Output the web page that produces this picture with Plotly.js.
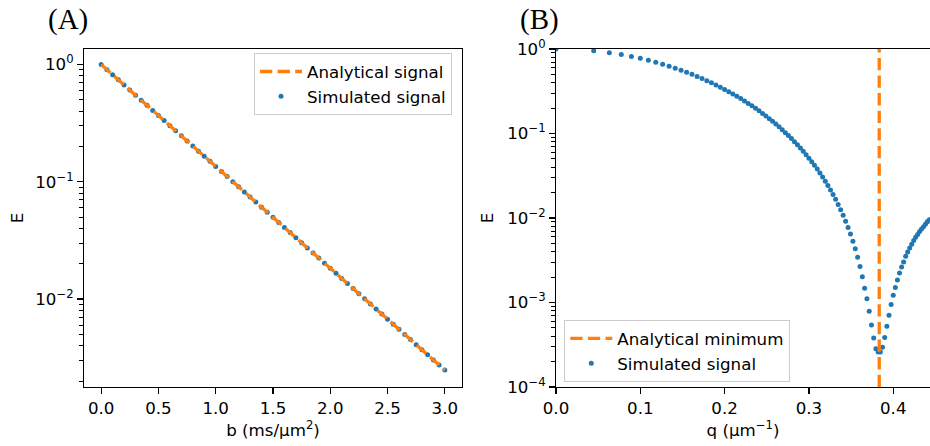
<!DOCTYPE html>
<html>
<head>
<meta charset="utf-8">
<script src="https://cdn.plot.ly/plotly-3.0.1.min.js"></script>
<style>html,body{margin:0;padding:0;background:#fff;}#chart{width:930px;height:446px;}</style>
</head>
<body>
<div id="chart"></div>
<script>
// ---- Panel A data: signal vs b ----
var bLine = [0, 3.0];
var eLine = [1, 0.002479];
var bSim = [0,0.05,0.1,0.15,0.2,0.25,0.3,0.35,0.4,0.45,0.5,0.55,0.6,0.65,0.7,0.75,0.8,0.85,0.9,0.95,1.0,1.05,1.1,1.15,1.2,1.25,1.3,1.35,1.4,1.45,1.5,1.55,1.6,1.65,1.7,1.75,1.8,1.85,1.9,1.95,2.0,2.05,2.1,2.15,2.2,2.25,2.3,2.35,2.4,2.45,2.5,2.55,2.6,2.65,2.7,2.75,2.8,2.85,2.9,2.95,3.0];
var eSim = [1,0.9048,0.8187,0.7408,0.6703,0.6065,0.5488,0.4966,0.4493,0.4066,0.3679,0.3329,0.3012,0.2725,0.2466,0.2231,0.2019,0.1827,0.1653,0.1496,0.1353,0.1225,0.1108,0.1003,0.09072,0.08208,0.07427,0.06721,0.06081,0.05502,0.04979,0.04505,0.04076,0.03688,0.03337,0.0302,0.02732,0.02472,0.02237,0.02024,0.01832,0.01657,0.015,0.01357,0.01228,0.01111,0.01005,0.009095,0.00823,0.007447,0.006738,0.006097,0.005517,0.004992,0.004517,0.004087,0.003698,0.003346,0.003028,0.002739,0.002479];

// ---- Panel B data: signal vs q ----
var qMin = 0.3834;
var qSim = [0,0.04472,0.06325,0.07746,0.08944,0.1,0.10954,0.11832,0.12649,0.13416,0.14142,0.14832,0.15492,0.16125,0.16733,0.17321,0.17889,0.18439,0.18974,0.19494,0.2,0.20494,0.20976,0.21448,0.21909,0.22361,0.22804,0.23238,0.23664,0.24083,0.24495,0.249,0.25298,0.2569,0.26077,0.26458,0.26833,0.27203,0.27568,0.27928,0.28284,0.28636,0.28983,0.29326,0.29665,0.3,0.30332,0.30659,0.30984,0.31305,0.31623,0.31937,0.32249,0.32558,0.32863,0.33166,0.33466,0.33764,0.34059,0.34351,0.34641,0.34928,0.35214,0.35496,0.35777,0.36056,0.36332,0.36606,0.36878,0.37148,0.37417,0.37683,0.37947,0.3821,0.38471,0.3873,0.38987,0.39243,0.39497,0.39749,0.4,0.40249,0.40497,0.40743,0.40988,0.41231,0.41473,0.41713,0.41952,0.4219,0.42426,0.42661,0.42895,0.43128,0.43359,0.43589,0.43818,0.44045,0.44272];
var eSimB = [1,0.951,0.9041,0.8591,0.8159,0.7746,0.735,0.6971,0.6608,0.6261,0.5929,0.5611,0.5308,0.5018,0.4741,0.4476,0.4224,0.3983,0.3754,0.3535,0.3326,0.3128,0.2939,0.2759,0.2588,0.2425,0.2271,0.2124,0.1985,0.1853,0.1728,0.161,0.1498,0.1392,0.1292,0.1198,0.1109,0.1024,0.09453,0.08708,0.08008,0.0735,0.06734,0.06156,0.05615,0.05109,0.04638,0.04198,0.03789,0.03409,0.03056,0.0273,0.02429,0.02151,0.01896,0.01663,0.01449,0.01254,0.01078,0.00918,0.007745,0.00646,0.00532,0.004313,0.003432,0.00267,0.002018,0.00147,0.00111,0.00079,0.000542,0.00038,0.000284,0.00026,0.00026,0.000295,0.000385,0.000523,0.000706,0.000945,0.00122,0.00151,0.00185,0.00223,0.00263,0.00301,0.00352,0.00396,0.00442,0.0049,0.0054,0.0059,0.0064,0.0069,0.0074,0.0079,0.00845,0.009,0.00955];

// ---- tick labels ----
var yTickValsA = [1, 0.1, 0.01];
var yTickTextA = ['10<sup>0</sup>', '10<sup>\u22121</sup>', '10<sup>\u22122</sup>'];
var yTickValsB = [1, 0.1, 0.01, 0.001, 0.0001];
var yTickTextB = ['10<sup>0</sup>', '10<sup>\u22121</sup>', '10<sup>\u22122</sup>', '10<sup>\u22123</sup>', '10<sup>\u22124</sup>'];

function minorLog(lo, hi) {
  var out = [];
  for (var d = lo; d < hi; d++) {
    for (var k = 2; k <= 9; k++) out.push(k * Math.pow(10, d));
  }
  return out;
}

var BLUE = '#1f77b4', ORANGE = '#ff7f0e';
var FONT = 'DejaVu Sans, sans-serif';
var FS = 16.67;

var traces = [
  {x: bSim, y: eSim, mode: 'markers', name: 'Simulated signal', xaxis: 'x', yaxis: 'y',
   marker: {color: BLUE, size: 5}, legend: 'legend', legendrank: 2},
  {x: bLine, y: eLine, mode: 'lines', name: 'Analytical signal', xaxis: 'x', yaxis: 'y',
   line: {color: ORANGE, width: 3.3, dash: '12.3px,5.3px'}, legend: 'legend', legendrank: 1},
  {x: qSim, y: eSimB, mode: 'markers', name: 'Simulated signal', xaxis: 'x2', yaxis: 'y2',
   marker: {color: BLUE, size: 5}, legend: 'legend2', legendrank: 2},
  {x: [qMin, qMin], y: [0.0001, 1], mode: 'lines', name: 'Analytical minimum', xaxis: 'x2', yaxis: 'y2',
   line: {color: ORANGE, width: 3.3, dash: '12.3px,5.3px'}, legend: 'legend2', legendrank: 1}
];

var axisCommon = {
  showgrid: false, zeroline: false, showline: true, linecolor: '#000', linewidth: 1.3,
  ticks: 'outside', ticklen: 5.8, tickwidth: 1.3, tickcolor: '#000',
  tickfont: {family: FONT, size: FS, color: '#000'}
};
function ax(extra) { return Object.assign({}, axisCommon, extra); }

var legendCommon = {
  font: {family: FONT, size: FS, color: '#000'},
  bgcolor: 'rgba(255,255,255,0.8)', bordercolor: '#cccccc', borderwidth: 1,
  xanchor: 'left', yanchor: 'middle', itemwidth: 42, tracegroupgap: 0
};

var layout = {
  width: 930, height: 446,
  margin: {l: 84, r: 0, t: 49, b: 59, pad: 0},
  paper_bgcolor: '#fff', plot_bgcolor: '#fff',
  showlegend: true,
  font: {family: FONT, size: FS, color: '#000'},
  xaxis: ax({domain: [0, 0.44681], anchor: 'y', range: [-0.15, 3.15], mirror: true,
    tickmode: 'linear', tick0: 0, dtick: 0.5, tickformat: '.1f',
    title: {text: 'b (ms/\u03bcm<sup>2</sup>)', font: {family: FONT, size: FS}, standoff: 5}}),
  yaxis: ax({anchor: 'x', type: 'log', range: [-2.75, 0.133], mirror: true,
    tickmode: 'array', tickvals: yTickValsA, ticktext: yTickTextA,
    minor: {tickvals: minorLog(-3, 1), ticks: 'outside', ticklen: 3.3, tickwidth: 1, tickcolor: '#000'},
    title: {text: 'E', font: {family: FONT, size: FS}, standoff: 7}}),
  xaxis2: ax({domain: [0.55792, 1], anchor: 'y2', range: [0, 0.4436], mirror: true,
    tickmode: 'linear', tick0: 0, dtick: 0.1, tickformat: '.1f',
    title: {text: 'q (\u03bcm<sup>\u22121</sup>)', font: {family: FONT, size: FS}, standoff: 5}}),
  yaxis2: ax({anchor: 'x2', type: 'log', range: [-4, 0], mirror: false,
    tickmode: 'array', tickvals: yTickValsB, ticktext: yTickTextB,
    minor: {tickvals: minorLog(-4, 0), ticks: 'outside', ticklen: 3.3, tickwidth: 1, tickcolor: '#000'},
    title: {text: 'E', font: {family: FONT, size: FS}, standoff: 9}}),
  legend: Object.assign({}, legendCommon, {x: 0.20095, y: 0.896}),
  legend2: Object.assign({}, legendCommon, {x: 0.5677, y: 0.1061}),
  annotations: [
    {text: '(A)', xref: 'paper', yref: 'paper', x: -0.0445, y: 1.088, xanchor: 'left', yanchor: 'middle',
     showarrow: false, font: {family: 'Liberation Serif, serif', size: 29, color: '#000'}},
    {text: '(B)', xref: 'paper', yref: 'paper', x: 0.5125, y: 1.088, xanchor: 'left', yanchor: 'middle',
     showarrow: false, font: {family: 'Liberation Serif, serif', size: 29, color: '#000'}}
  ]
};

Plotly.newPlot('chart', traces, layout, {displayModeBar: false, staticPlot: true});
</script>
</body>
</html>
